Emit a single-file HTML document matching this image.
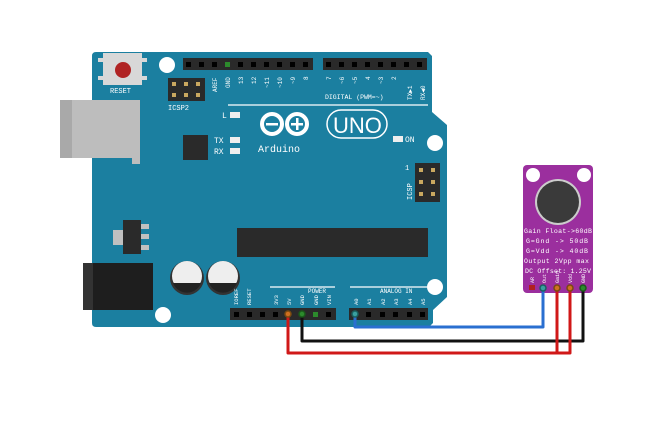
<!DOCTYPE html>
<html><head><meta charset="utf-8"><style>
html,body{margin:0;padding:0;background:#fff;width:650px;height:445px;overflow:hidden}
svg{display:block}
text{font-family:"Liberation Mono",monospace;fill:#fff}
</style></head><body>
<svg width="650" height="445" viewBox="0 0 650 445" xmlns="http://www.w3.org/2000/svg">
<!-- board -->
<path d="M96 52 L428 52 L432 56 L432 112 L447 125 L447 297 L433 310 L433 323 L429 327 L96 327 Q92 327 92 323 L92 56 Q92 52 96 52 Z" fill="#1b7fa0"/>
<!-- USB -->
<rect x="60" y="100" width="80" height="58" fill="#bdbdbd"/>
<rect x="60" y="100" width="12" height="58" fill="#a9a9a9"/>
<rect x="132" y="158" width="8" height="6" fill="#bdbdbd"/>
<!-- DC jack -->
<rect x="83" y="263" width="70" height="47" fill="#1e1e1e"/>
<rect x="83" y="263" width="10" height="47" fill="#333"/>
<!-- reset -->
<rect x="103" y="53" width="39" height="32" fill="#d8d8d8"/>
<rect x="98" y="58" width="5" height="4" fill="#d8d8d8"/><rect x="98" y="76" width="5" height="4" fill="#d8d8d8"/>
<rect x="142" y="58" width="5" height="4" fill="#d8d8d8"/><rect x="142" y="76" width="5" height="4" fill="#d8d8d8"/>
<circle cx="123" cy="70" r="8" fill="#b02424"/>
<text x="110" y="93" font-size="7">RESET</text>
<!-- holes -->
<circle cx="167" cy="65" r="8" fill="#fff"/>
<circle cx="435" cy="143" r="8" fill="#fff"/>
<circle cx="163" cy="315" r="8" fill="#fff"/>
<circle cx="435" cy="287" r="8" fill="#fff"/>
<!-- ICSP2 -->
<rect x="168" y="78" width="37" height="23" fill="#2a2a2a"/>
<g fill="#c9a860"><rect x="172" y="82" width="4" height="4"/><rect x="184" y="82" width="4" height="4"/><rect x="196" y="82" width="4" height="4"/><rect x="172" y="93" width="4" height="4"/><rect x="184" y="93" width="4" height="4"/><rect x="196" y="93" width="4" height="4"/></g>
<text x="168" y="110" font-size="7">ICSP2</text>
<!-- digital headers -->
<rect x="183" y="58" width="130" height="12" fill="#2a2a2a"/>
<rect x="323" y="58" width="104" height="12" fill="#2a2a2a"/>
<g fill="#000">
<rect x="186" y="62" width="5" height="5"/><rect x="199" y="62" width="5" height="5"/><rect x="212" y="62" width="5" height="5"/><rect x="238" y="62" width="5" height="5"/><rect x="251" y="62" width="5" height="5"/><rect x="264" y="62" width="5" height="5"/><rect x="277" y="62" width="5" height="5"/><rect x="290" y="62" width="5" height="5"/><rect x="303" y="62" width="5" height="5"/>
<rect x="326" y="62" width="5" height="5"/><rect x="339" y="62" width="5" height="5"/><rect x="352" y="62" width="5" height="5"/><rect x="365" y="62" width="5" height="5"/><rect x="378" y="62" width="5" height="5"/><rect x="391" y="62" width="5" height="5"/><rect x="404" y="62" width="5" height="5"/><rect x="417" y="62" width="5" height="5"/>
</g>
<rect x="225" y="62" width="5" height="5" fill="#2c8a2c"/>
<g font-size="6">
<text transform="translate(217,92) rotate(-90)">AREF</text>
<text transform="translate(230,88) rotate(-90)">GND</text>
<text transform="translate(243,84) rotate(-90)">13</text>
<text transform="translate(256,84) rotate(-90)">12</text>
<text transform="translate(269,88) rotate(-90)">~11</text>
<text transform="translate(282,88) rotate(-90)">~10</text>
<text transform="translate(295,84) rotate(-90)">~9</text>
<text transform="translate(308,80) rotate(-90)">8</text>
<text transform="translate(331,80) rotate(-90)">7</text>
<text transform="translate(344,84) rotate(-90)">~6</text>
<text transform="translate(357,84) rotate(-90)">~5</text>
<text transform="translate(370,80) rotate(-90)">4</text>
<text transform="translate(383,84) rotate(-90)">~3</text>
<text transform="translate(396,80) rotate(-90)">2</text>
<text transform="translate(412,100) rotate(-90)">TX▶1</text>
<text transform="translate(425,100) rotate(-90)">RX◀0</text>
</g>
<text x="325" y="99" font-size="6.5">DIGITAL (PWM=~)</text>
<line x1="228" y1="105" x2="428" y2="105" stroke="#fff" stroke-width="1.3"/>
<!-- LEDs -->
<text x="222" y="118" font-size="8">L</text><rect x="230" y="112" width="10" height="6" fill="#eee"/>
<text x="214" y="143" font-size="8">TX</text><rect x="230" y="137" width="10" height="6" fill="#eee"/>
<text x="214" y="154" font-size="8">RX</text><rect x="230" y="148" width="10" height="6" fill="#eee"/>
<rect x="393" y="136" width="10" height="6" fill="#eee"/><text x="405" y="142" font-size="8">ON</text>
<!-- chip -->
<rect x="183" y="135" width="25" height="25" fill="#2a2a2a"/>
<!-- logo -->
<g fill="none" stroke="#fff" stroke-width="4">
<circle cx="272" cy="124" r="10"/><circle cx="297" cy="124" r="10"/>
</g>
<rect x="266" y="123" width="12" height="2.5" fill="#fff"/>
<rect x="291" y="123" width="12" height="2.5" fill="#fff"/><rect x="296" y="118" width="2.5" height="12" fill="#fff"/>
<rect x="327" y="110" width="60" height="28" rx="14" fill="none" stroke="#fff" stroke-width="1.5"/>
<text x="333" y="133" font-size="22" style="font-family:'Liberation Sans',sans-serif">UNO</text>
<text x="258" y="152" font-size="10">Arduino</text>
<!-- ICSP right -->
<rect x="415" y="163" width="25" height="39" fill="#2a2a2a"/>
<g fill="#c9a860"><rect x="419" y="168" width="4" height="4"/><rect x="431" y="168" width="4" height="4"/><rect x="419" y="180" width="4" height="4"/><rect x="431" y="180" width="4" height="4"/><rect x="419" y="192" width="4" height="4"/><rect x="431" y="192" width="4" height="4"/></g>
<text font-size="7" transform="translate(412,200) rotate(-90)">ICSP</text>
<text x="405" y="170" font-size="7">1</text>
<!-- regulator -->
<rect x="113" y="230" width="12" height="15" fill="#c0c0c0"/>
<rect x="123" y="220" width="18" height="34" fill="#2a2a2a"/>
<rect x="141" y="224" width="8" height="5" fill="#c0c0c0"/><rect x="141" y="234" width="8" height="5" fill="#c0c0c0"/><rect x="141" y="245" width="8" height="5" fill="#c0c0c0"/>
<!-- long chip -->
<rect x="237" y="228" width="191" height="29" fill="#2a2a2a"/>
<!-- caps -->
<circle cx="187" cy="278" r="17" fill="#333"/><circle cx="187" cy="276" r="15" fill="#eee"/>
<path d="M173 283 A15 15 0 0 0 201 283 Z" fill="#222"/>
<circle cx="223" cy="278" r="17" fill="#333"/><circle cx="223" cy="276" r="15" fill="#eee"/>
<path d="M209 283 A15 15 0 0 0 237 283 Z" fill="#222"/>
<!-- power / analog -->
<line x1="270" y1="287" x2="335" y2="287" stroke="#fff" stroke-width="1.3"/>
<line x1="350" y1="287" x2="427" y2="287" stroke="#fff" stroke-width="1.3"/>
<text x="308" y="293" font-size="6">POWER</text>
<text x="380" y="293" font-size="6">ANALOG IN</text>
<g font-size="5.5">
<text transform="translate(238,305) rotate(-90)">IOREF</text>
<text transform="translate(251,305) rotate(-90)">RESET</text>
<text transform="translate(278,305) rotate(-90)">3V3</text>
<text transform="translate(291,305) rotate(-90)">5V</text>
<text transform="translate(304,305) rotate(-90)">GND</text>
<text transform="translate(318,305) rotate(-90)">GND</text>
<text transform="translate(331,305) rotate(-90)">VIN</text>
<text transform="translate(358,305) rotate(-90)">A0</text>
<text transform="translate(371,305) rotate(-90)">A1</text>
<text transform="translate(385,305) rotate(-90)">A2</text>
<text transform="translate(398,305) rotate(-90)">A3</text>
<text transform="translate(412,305) rotate(-90)">A4</text>
<text transform="translate(425,305) rotate(-90)">A5</text>
</g>
<rect x="230" y="308" width="106" height="12" fill="#2a2a2a"/>
<rect x="349" y="308" width="79" height="12" fill="#2a2a2a"/>
<g fill="#000">
<rect x="234" y="312" width="5" height="5"/><rect x="247" y="312" width="5" height="5"/><rect x="260" y="312" width="5" height="5"/><rect x="273" y="312" width="5" height="5"/><rect x="326" y="312" width="5" height="5"/>
<rect x="366" y="312" width="5" height="5"/><rect x="380" y="312" width="5" height="5"/><rect x="393" y="312" width="5" height="5"/><rect x="407" y="312" width="5" height="5"/><rect x="420" y="312" width="5" height="5"/>
</g>
<rect x="313" y="312" width="5" height="5" fill="#2c8a2c"/>
<!-- sensor -->
<rect x="523" y="165" width="70" height="128" rx="4" fill="#9b2f9e"/>
<circle cx="533" cy="175" r="7" fill="#fff"/><circle cx="584" cy="175" r="7" fill="#fff"/>
<circle cx="558" cy="202" r="23" fill="#ccc"/><circle cx="558" cy="202" r="21" fill="#3a3a3a"/>
<g font-size="6.6">
<text x="524" y="233" textLength="68">Gain Float-&gt;60dB</text>
<text x="526" y="243" textLength="62">G=Gnd -&gt; 50dB</text>
<text x="526" y="253" textLength="62">G=Vdd -&gt; 40dB</text>
<text x="524" y="263" textLength="65">Output 2Vpp max</text>
<text x="525" y="273" textLength="66">DC Offset: 1.25V</text>
</g>
<g font-size="5">
<text transform="translate(534,283) rotate(-90)">AR</text>
<text transform="translate(546,283) rotate(-90)">Out</text>
<text transform="translate(559,283) rotate(-90)">Gain</text>
<text transform="translate(572,283) rotate(-90)">Vdd</text>
<text transform="translate(585,283) rotate(-90)">GND</text>
</g>
<rect x="529" y="285" width="6" height="5" fill="#b02020"/>
<!-- wires -->
<g fill="none" stroke-width="3" stroke-linejoin="round">
<path d="M355 315 V327 H543 V287" stroke="#2a6fd0"/>
<path d="M302 315 V341 H583 V287" stroke="#111"/>
<path d="M288 315 V353 H570 V287 M557 353 V287" stroke="#d01818"/>
</g>
<g stroke-width="1.5">
<circle cx="288" cy="314" r="3" fill="#d07020" stroke="#7a4a10"/>
<circle cx="302" cy="314" r="3" fill="#2c8a2c" stroke="#1a5a1a"/>
<circle cx="355" cy="314" r="3" fill="#3aa0a0" stroke="#1a6060"/>
<circle cx="543" cy="288" r="3" fill="#3aa0a0" stroke="#1a6060"/>
<circle cx="557" cy="288" r="3" fill="#d07020" stroke="#7a4a10"/>
<circle cx="570" cy="288" r="3" fill="#d07020" stroke="#7a4a10"/>
<circle cx="583" cy="288" r="3" fill="#2c8a2c" stroke="#1a5a1a"/>
</g>
</svg>
</body></html>
